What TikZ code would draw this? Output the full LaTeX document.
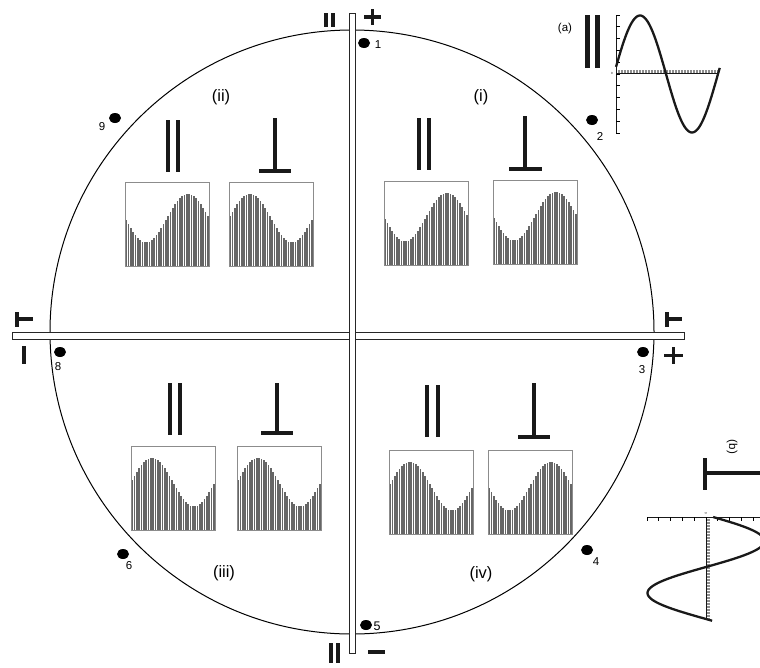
\documentclass[tikz,border=0pt]{standalone}
\usepackage{fontspec}
\setmainfont{Liberation Sans}
\usetikzlibrary{shapes.geometric}
\newcommand\histbox[3]{%
  \begin{scope}[shift={(#1,#2)}]
    \foreach \i in {0,...,35}{
      \pgfmathsetmacro\hh{84*(0.57+(#3)*0.29*sin(360*(\i+0.5)/36))}
      \fill[histbar] (\i*2.333+0.3,84) rectangle ++(1.6,-\hh);
    }
    \draw[histframe] (0,0) rectangle (84,84);
  \end{scope}}
\begin{document}
\begin{tikzpicture}[x=1pt,y=-1pt,
  histbar/.style={fill=black!60},
  histframe/.style={draw=black!45,line width=0.7pt},
  sym/.style={line width=4.4pt,line cap=butt,black!90},
  smallsym/.style={line width=3.6pt,line cap=butt,black!90},
  bar/.style={draw=black!85,fill=white,line width=0.8pt},
  dot/.style={ellipse,fill=black,minimum width=12pt,minimum height=10pt,inner sep=0pt},
  num/.style={font=\fontsize{11.5}{11.5}\selectfont,inner sep=0pt},
  quad/.style={font=\fontsize{16.5}{16.5}\selectfont,inner sep=0pt},
  curve/.style={line width=2.3pt,black!90},
  axis/.style={line width=1pt,black!90},
  dense/.style={line width=3pt,black!45,dash pattern=on 0.9pt off 0.6pt}]
\useasboundingbox (0,0) rectangle (760,667);
\clip (0,0) rectangle (760,667);

% circle and bars
\draw[line width=1pt] (352,332) circle (302pt);
\draw[bar] (12,332) rectangle (684,339);
\draw[bar] (349,13) rectangle (355,653);

% end marks
\draw[smallsym] (326,13) -- (326,27) (333,13) -- (333,27);
\draw[smallsym] (364,17) -- (381,17) (372.5,9) -- (372.5,25);
\draw[smallsym] (331,643) -- (331,663) (338,643) -- (338,663);
\draw[smallsym] (368,652) -- (385,652);
\draw[smallsym] (17,312) -- (17,327) (17,319) -- (33,319);
\draw[smallsym] (24,346) -- (24,364);
\draw[smallsym] (667,312) -- (667,327) (667,319) -- (682,319);
\draw[smallsym] (664,355.5) -- (683,355.5) (673.5,347) -- (673.5,364);

% dots and numbers
\node[dot] (d1) at (364,43) {};   \node[num] (n1) at (378,45) {1};
\node[dot] (d2) at (592,120) {};  \node[num] (n2) at (600,136) {2};
\node[dot] (d3) at (643,352) {};  \node[num] (n3) at (642,370) {3};
\node[dot] (d4) at (587,550) {};  \node[num] (n4) at (596,562) {4};
\node[dot] (d5) at (366,625) {};  \node[num,font=\fontsize{12.5}{12.5}\selectfont] (n5) at (377,626) {5};
\node[dot] (d6) at (123,554) {};  \node[num] (n6) at (129,566) {6};
\node[dot] (d8) at (60,352) {};   \node[num] (n8) at (58,367) {8};
\node[dot] (d9) at (115,118) {};  \node[num] (n9) at (102,127) {9};

% quadrant labels
\node[quad] (qi) at (481,97) {(i)};
\node[quad] (qii) at (221,97) {(ii)};
\node[quad] (qiii) at (224,573) {(iii)};
\node[quad] (qiv) at (481,574) {(iv)};

% quadrant symbols
\draw[sym] (168,120) -- (168,172) (178,120) -- (178,172);
\draw[sym] (275,118) -- (275,171) (259,171) -- (291,171);
\draw[sym] (419,118) -- (419,170) (429,118) -- (429,170);
\draw[sym] (525,116) -- (525,169) (509,169) -- (542,169);
\draw[sym] (170,383) -- (170,435) (180,383) -- (180,435);
\draw[sym] (277,383) -- (277,433) (261,433) -- (293,433);
\draw[sym] (427,385) -- (427,437) (438,385) -- (438,437);
\draw[sym] (534,383) -- (534,437) (518,437) -- (550,437);

% histograms
\histbox{125}{182}{-1}
\histbox{229}{182}{1}
\histbox{384}{181}{-1}
\histbox{493}{180}{-1}
\histbox{131}{446}{1}
\histbox{237}{446}{1}
\histbox{389}{450}{1}
\histbox{488}{450}{-1}

% inset (a)
\node[num] (la) at (565,29) {(a)};
\draw[line width=5pt,black!90] (587,15) -- (587,68) (597,15) -- (597,68);
\draw[dense] (616,71.5) -- (718,71.5);
\draw[axis] (616,73.5) -- (718,73.5);
\draw[axis] (616,15) -- (616,133);
\foreach \k in {0,...,10}{\draw[line width=0.8pt] (616,15+\k*11.8) -- (619.5,15+\k*11.8);}
\node[inner sep=0pt,font=\fontsize{3}{3}\selectfont] (za) at (612,73) {0};
\draw[curve] plot[domain=7:366,samples=80,smooth] ({666+(\x-180)/180*52},{74-58.5*sin(\x)});

% inset (b)
\node[num,rotate=-90] (lb) at (732,447) {(b)};
\draw[sym] (705,458) -- (705,490) (705,473) -- (760,473);
\draw[dense] (708,517) -- (708,619);
\draw[axis] (706,517) -- (706,619);
\draw[axis] (647,517) -- (760,517);
\foreach \k in {-5,...,5}{\draw[line width=0.8pt] (706+\k*11.8,517) -- (706+\k*11.8,520.5);}
\node[inner sep=0pt,font=\fontsize{3}{3}\selectfont,rotate=-90] (zb) at (706,513) {0};
\draw[curve] plot[domain=7:366,samples=80,smooth] ({706+58.5*sin(\x)},{567+(\x-180)/180*52});
\end{tikzpicture}
\end{document}
